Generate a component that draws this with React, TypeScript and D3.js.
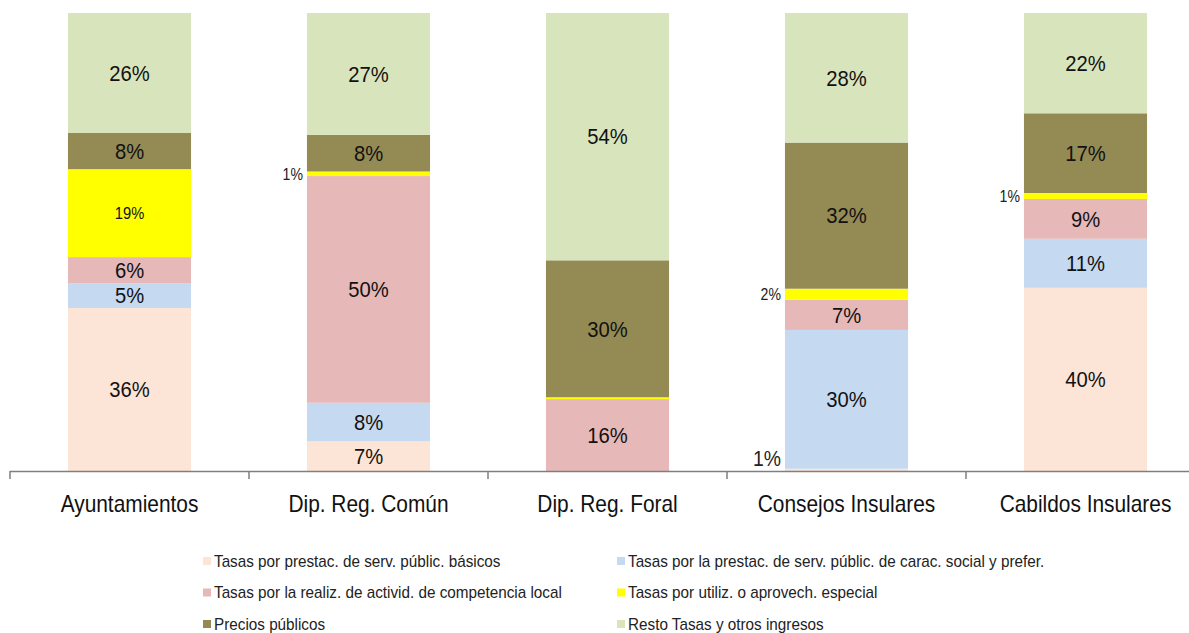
import React from "react";
import * as d3 from "d3";

const categories = ["Ayuntamientos", "Dip. Reg. Común", "Dip. Reg. Foral", "Consejos Insulares", "Cabildos Insulares"];
const seriesNames = [
  "Tasas por prestac. de serv. públic. básicos",
  "Tasas por la prestac. de serv. públic. de carac. social y prefer.",
  "Tasas por la realiz. de activid. de competencia local",
  "Tasas por utiliz. o aprovech. especial",
  "Precios públicos",
  "Resto Tasas y otros ingresos",
];
const basicos = [35.6, 6.5, 0, 0.5, 40.0];
const social = [5.4, 8.4, 0, 30.3, 10.7];
const local = [5.7, 49.5, 15.7, 6.6, 8.7];
const aprovech = [19.2, 1.0, 0.4, 2.4, 1.3];
const precios = [7.9, 8.0, 29.9, 31.9, 17.4];
const resto = [26.2, 26.6, 54.0, 28.3, 21.9];
const colors = ["#FCE4D6", "#C5D9F1", "#E6B8B7", "#FFFF00", "#948A54", "#D8E4BC"];

const W = 1189, H = 633;
const FONT = "'Liberation Sans', Arial, sans-serif";

export default function App() {
  const series = [basicos, social, local, aprovech, precios, resto];
  const rows = categories.map((c, i) => {
    const r: any = { cat: c };
    series.forEach((s, k) => (r["s" + k] = s[i]));
    return r;
  });
  const keys = series.map((_, k) => "s" + k);
  const stacked = d3.stack().keys(keys)(rows);

  const x = d3.scaleBand().domain(categories).range([10, 10 + 239 * 5]).paddingInner(0.485).paddingOuter(0.2425);
  const y = d3.scaleLinear().domain([0, 100]).range([471, 13]);
  const step = x.step();

  return (
    <svg width={W} height={H} style={{ position: "absolute", left: 0, top: 0, background: "#fff" }} fontFamily={FONT}>
      {stacked.map((layer, k) =>
        layer.map((d, i) => {
          const v = d[1] - d[0];
          if (v <= 0) return null;
          return (
            <rect key={k + "-" + i} x={x(categories[i])} width={x.bandwidth()} y={y(d[1])} height={y(d[0]) - y(d[1])} fill={colors[k]} />
          );
        })
      )}
      {stacked.map((layer, k) =>
        layer.map((d, i) => {
          const v = d[1] - d[0];
          if (v < 0.45) return null;
          const lbl = Math.round(v) + "%";
          const bx = x(categories[i])!;
          let cy = (y(d[0]) + y(d[1])) / 2;
          if (v < 3) {
            cy = Math.min(cy, 458);
            const big = d[0] === 0;
            return (
              <text key={"l" + k + "-" + i} transform={`translate(${bx - 4},${cy}) scale(0.88,1)`} textAnchor="end" dominantBaseline="central" fontSize={big ? 22 : 16} fill="#222">
                {lbl}
              </text>
            );
          }
          return (
            <text key={"l" + k + "-" + i} transform={`translate(${bx + x.bandwidth() / 2},${cy}) scale(0.92,1)`} textAnchor="middle" dominantBaseline="central" fontSize={k === 3 ? 16 : 22} fill="#111">
              {lbl}
            </text>
          );
        })
      )}
      <line x1={10} x2={W} y1={471.5} y2={471.5} stroke="#7f7f7f" strokeWidth={1.5} />
      {categories.map((c, i) => (
        <line key={"t" + i} x1={10 + i * step} x2={10 + i * step} y1={471} y2={479} stroke="#7f7f7f" strokeWidth={1.5} />
      ))}
      {categories.map((c) => (
        <text key={"c" + c} transform={`translate(${x(c)! + x.bandwidth() / 2},${504}) scale(0.87,1)`} textAnchor="middle" dominantBaseline="central" fontSize={24} fill="#111">
          {c}
        </text>
      ))}
      {seriesNames.map((n, k) => {
        const col = k % 2, row = Math.floor(k / 2);
        const lx = col === 0 ? 203 : 617;
        const ly = 561 + row * 31.5;
        return (
          <g key={"lg" + k}>
            <rect x={lx} y={ly - 4} width={8} height={8} fill={colors[k]} />
            <text transform={`translate(${lx + 11},${ly}) scale(0.955,1)`} dominantBaseline="central" fontSize={16} fill="#222">
              {n}
            </text>
          </g>
        );
      })}
    </svg>
  );
}
